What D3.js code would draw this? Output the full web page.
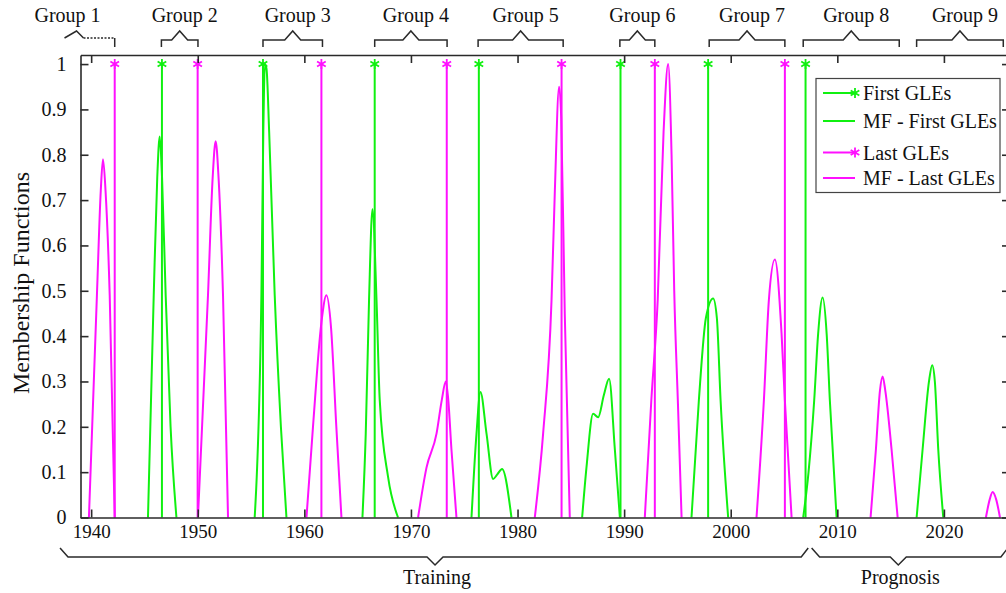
<!DOCTYPE html>
<html>
<head>
<meta charset="utf-8">
<script src="https://cdn.jsdelivr.net/npm/d3@7"></script>
<style>
  body { margin: 0; background: #fff; }
  svg { display: block; font-family: "Liberation Serif", "Times New Roman", serif; }
</style>
</head>
<body>
<div id="chart"></div>
<script>
// years of first / last GLE of each cycle (stems with star at 1)
var firstGLE = [1946.64, 1956.12, 1966.6, 1976.37, 1989.66, 1997.88, 2007.02];
var lastGLE = [1942.21, 1949.99, 1961.6, 1973.36, 1984.13, 1992.88, 2005.08];

// membership function curves, one list of [year, value] per peak
var mfFirst = [
    [[1945.33, 0], [1945.87, 0.49], [1946.2, 0.75], [1946.43, 0.84], [1946.65, 0.75], [1946.99, 0.49], [1947.45, 0.2], [1948.0, 0]],
    [[1955.34, 0], [1955.97, 0.49], [1956.15, 0.85], [1956.3, 1.0], [1956.45, 0.99], [1956.7, 0.85], [1957.22, 0.49], [1957.8, 0.2], [1958.32, 0]],
    [[1965.45, 0], [1965.76, 0.185], [1966.07, 0.48], [1966.39, 0.68], [1966.77, 0.48], [1967.07, 0.26], [1967.85, 0.09], [1968.79, 0]],
    [[1975.68, 0], [1976.15, 0.185], [1976.52, 0.277], [1977.09, 0.185], [1977.71, 0.085], [1978.1, 0.095], [1978.55, 0.107], [1979.43, 0]],
    [[1986.06, 0], [1986.47, 0.111], [1987.09, 0.229], [1987.56, 0.221], [1988.1, 0.27], [1988.59, 0.306], [1989.13, 0.15], [1989.6, 0]],
    [[1996.32, 0], [1997.01, 0.258], [1997.67, 0.44], [1998.35, 0.483], [1998.7, 0.44], [1999.05, 0.258], [1999.76, 0]],
    [[2006.8, 0], [2007.3, 0.1], [2007.83, 0.258], [2008.2, 0.405], [2008.62, 0.485], [2009.0, 0.405], [2009.3, 0.258], [2009.93, 0]],
    [[2017.44, 0], [2018.0, 0.15], [2018.6, 0.3], [2018.9, 0.336], [2019.15, 0.3], [2019.47, 0.15], [2019.94, 0]]
];
var mfLast = [
    [[1939.79, 0], [1940.54, 0.49], [1940.9, 0.72], [1941.11, 0.79], [1941.35, 0.72], [1941.74, 0.49], [1942.21, 0]],
    [[1950.02, 0], [1950.96, 0.49], [1951.4, 0.75], [1951.68, 0.83], [1951.95, 0.75], [1952.37, 0.49], [1952.84, 0]],
    [[1960.2, 0], [1960.81, 0.2], [1961.6, 0.43], [1962.07, 0.49], [1962.5, 0.42], [1963.0, 0.2], [1963.48, 0]],
    [[1970.67, 0], [1971.46, 0.11], [1972.4, 0.185], [1972.9, 0.26], [1973.27, 0.30], [1973.5, 0.26], [1973.8, 0.15], [1974.27, 0]],
    [[1981.62, 0], [1982.4, 0.185], [1983.19, 0.48], [1983.5, 0.72], [1983.9, 0.95], [1984.1, 0.88], [1984.43, 0.45], [1984.9, 0]],
    [[1991.94, 0], [1992.55, 0.258], [1993.15, 0.48], [1993.7, 0.85], [1994.13, 1.0], [1994.45, 0.8], [1994.7, 0.5], [1995.05, 0.25], [1995.39, 0]],
    [[2002.42, 0], [2003.11, 0.258], [2003.58, 0.48], [2004.14, 0.569], [2004.77, 0.405], [2005.08, 0.258], [2005.71, 0]],
    [[2013.12, 0], [2013.62, 0.15], [2014.0, 0.28], [2014.25, 0.311], [2014.5, 0.28], [2015.09, 0.15], [2015.66, 0]],
    [[2023.94, 0], [2024.3, 0.04], [2024.57, 0.056], [2024.9, 0.04], [2025.26, 0]]
];

// groups shown on top, periods shown below
var groupNames = ['Group 1', 'Group 2', 'Group 3', 'Group 4', 'Group 5', 'Group 6', 'Group 7', 'Group 8', 'Group 9'];
var groupStart = [1937.5, 1946.59, 1956.12, 1966.6, 1976.3, 1989.6, 1997.98, 2006.8, 2017.44];
var groupEnd = [1942.21, 1950.02, 1961.7, 1973.39, 1984.28, 1992.88, 2005.08, 2015.81, 2025.57];

var periodNames = ['Training', 'Prognosis'];
var periodStart = [1937.08, 2007.59];
var periodEnd = [2007.27, 2026.0];
var periodMid = [1972.26, 2015.72];

var xTicks = [1940, 1950, 1960, 1970, 1980, 1990, 2000, 2010, 2020];
var yTicks = [0, 0.1, 0.2, 0.3, 0.4, 0.5, 0.6, 0.7, 0.8, 0.9, 1];

var legendNames = ['First GLEs', 'MF - First GLEs', 'Last GLEs', 'MF - Last GLEs'];

var green = '#10f010',
    magenta = '#ff10ff',
    ink = '#2a2a2a';

var width = 1006,
    height = 593,
    plotLeft = 80.5, plotRight = 1010, plotTop = 55, plotBottom = 517.5;

var svg = d3.select('#chart').append('svg')
    .attr('width', width)
    .attr('height', height);

var x = d3.scaleLinear().domain([1939, 2026.2]).range([plotLeft, plotRight]);
var y = d3.scaleLinear().domain([0, 1.02]).range([plotBottom, plotTop]);

var plot = svg.append('g');

// MF curves
var line = d3.line()
    .x(d => x(d[0]))
    .y(d => y(d[1]))
    .curve(d3.curveMonotoneX);

plot.selectAll('path.mf-first')
    .data(mfFirst)
    .enter().append('path')
    .attr('class', 'mf-first')
    .attr('d', line)
    .attr('fill', 'none')
    .attr('stroke', green)
    .attr('stroke-width', 2);

plot.selectAll('path.mf-last')
    .data(mfLast)
    .enter().append('path')
    .attr('class', 'mf-last')
    .attr('d', line)
    .attr('fill', 'none')
    .attr('stroke', magenta)
    .attr('stroke-width', 2);

// stems
var star = d3.symbol().type(d3.symbolAsterisk).size(70);

function stems(data, color) {
    var g = plot.append('g');
    g.selectAll('line')
        .data(data)
        .enter().append('line')
        .attr('x1', d => x(d)).attr('x2', d => x(d))
        .attr('y1', y(0)).attr('y2', y(1))
        .attr('stroke', color)
        .attr('stroke-width', 2);
    g.selectAll('path')
        .data(data)
        .enter().append('path')
        .attr('d', star)
        .attr('transform', d => `translate(${x(d)},${y(1)})`)
        .attr('fill', 'none')
        .attr('stroke', color)
        .attr('stroke-width', 1.8);
}
stems(firstGLE, green);
stems(lastGLE, magenta);

// axes (box with inward ticks)
function styleAxis(g) {
    g.selectAll('path, line').attr('stroke', ink).attr('stroke-width', 1.6);
    g.selectAll('text').attr('fill', '#111').style('font-size', '19px')
        .style('font-family', '"Liberation Serif", serif');
}

svg.append('g')
    .attr('transform', `translate(0,${plotBottom})`)
    .call(d3.axisBottom(x).tickValues(xTicks).tickFormat(d3.format('d'))
        .tickSize(-8).tickSizeOuter(0).tickPadding(7))
    .call(styleAxis);

svg.append('g')
    .attr('transform', `translate(0,${plotTop})`)
    .call(d3.axisTop(x).tickValues(xTicks).tickFormat('')
        .tickSize(-8).tickSizeOuter(0))
    .call(styleAxis);

svg.append('g')
    .attr('transform', `translate(${plotLeft},0)`)
    .call(d3.axisLeft(y).tickValues(yTicks).tickFormat(d3.format('~g'))
        .tickSize(-8).tickSizeOuter(0).tickPadding(14))
    .call(styleAxis)
    .call(g => g.selectAll('text').style('font-size', '20px'));

svg.append('g')
    .attr('transform', `translate(${plotRight},0)`)
    .call(d3.axisRight(y).tickValues(yTicks).tickFormat('')
        .tickSize(-8).tickSizeOuter(0))
    .call(styleAxis);

svg.append('text')
    .attr('transform', 'translate(29,283) rotate(-90)')
    .attr('text-anchor', 'middle')
    .style('font-size', '24px')
    .attr('fill', '#111')
    .text('Membership Functions');

// group brackets on top
var yLine = 40, yPeak = 31, yEnd = 47;
var groups = svg.append('g')
    .attr('fill', 'none')
    .attr('stroke', ink)
    .attr('stroke-width', 1.5);

groupNames.forEach(function(name, i) {
    var xs = x(groupStart[i]), xe = x(groupEnd[i]);
    var c;
    if (i === 0) {
        c = xs + 12;
        groups.append('path')
            .attr('d', `M${xs},${yLine - 2}L${c},${yPeak}L${c + 7},${yLine - 2}`);
        groups.append('path')
            .attr('d', `M${c + 7},${yLine - 2}L${xe},${yLine - 2}`)
            .attr('stroke-dasharray', '2,1.5');
        groups.append('path')
            .attr('d', `M${xe},${yLine - 2}L${xe},${yEnd}`);
    } else {
        c = (xs + xe) / 2;
        groups.append('path')
            .attr('d', `M${xs},${yEnd}L${xs},${yLine}L${c - 8},${yLine}L${c},${yPeak}` +
                `L${c + 8},${yLine}L${xe},${yLine}L${xe},${yEnd}`);
    }
    svg.append('text')
        .attr('x', c + (i === 0 ? -9 : 5))
        .attr('y', 22)
        .attr('text-anchor', 'middle')
        .style('font-size', '20px')
        .attr('fill', '#111')
        .text(name);
});

// period braces below
var braces = svg.append('g')
    .attr('fill', 'none')
    .attr('stroke', ink)
    .attr('stroke-width', 1.5);

periodNames.forEach(function(name, i) {
    var xs = x(periodStart[i]), xe = x(periodEnd[i]), m = x(periodMid[i]);
    braces.append('path')
        .attr('d', `M${xs},548L${xs + 8},557L${m - 8},557L${m},565L${m + 8},557` +
            `L${xe - 7},557L${xe},548`);
    svg.append('text')
        .attr('x', m + 2)
        .attr('y', 583.5)
        .attr('text-anchor', 'middle')
        .style('font-size', '20px')
        .attr('fill', '#111')
        .text(name);
});

// legend
var legend = svg.append('g');
legend.append('rect')
    .attr('x', 816).attr('y', 78.5)
    .attr('width', 184).attr('height', 114)
    .attr('fill', '#fff')
    .attr('stroke', '#444')
    .attr('stroke-width', 1.2);

var rowY = [93, 121, 152.5, 178];
legendNames.forEach(function(name, i) {
    var color = i < 2 ? green : magenta;
    legend.append('line')
        .attr('x1', 823).attr('x2', 855)
        .attr('y1', rowY[i]).attr('y2', rowY[i])
        .attr('stroke', color).attr('stroke-width', 2);
    if (i % 2 === 0) {
        legend.append('path')
            .attr('d', star)
            .attr('transform', `translate(855,${rowY[i]})`)
            .attr('fill', 'none')
            .attr('stroke', color)
            .attr('stroke-width', 1.8);
    }
    legend.append('text')
        .attr('x', 863).attr('y', rowY[i] + 7)
        .style('font-size', '20px')
        .attr('fill', '#111')
        .text(name);
});
</script>
</body>
</html>
